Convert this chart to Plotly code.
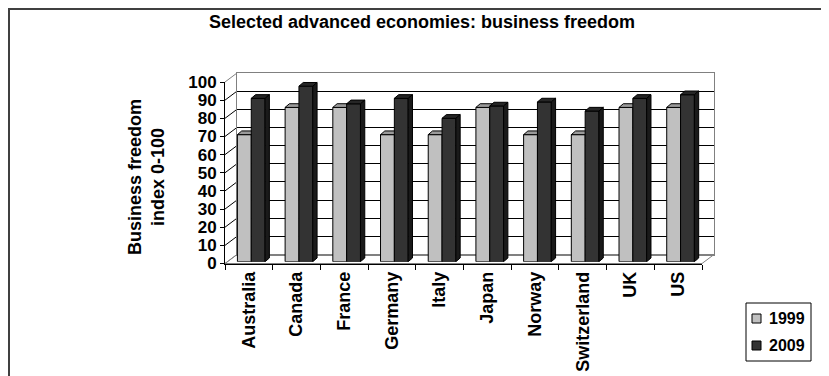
import plotly.graph_objects as go

# ---------------- data ----------------
countries = ["Australia", "Canada", "France", "Germany", "Italy",
             "Japan", "Norway", "Switzerland", "UK", "US"]
values_1999 = [70, 85, 85, 70, 70, 85, 70, 70, 85, 85]
values_2009 = [90, 96.7, 87, 90, 79, 85.8, 88, 83, 90, 92]
series_names = ["1999", "2009"]
y_ticks = list(range(0, 101, 10))

# ---------------- geometry (page pixels) ----------------
W, H = 829, 376
OFF = 8                      # page body margin compensation
FX0, FX1 = 225, 702          # front plane x extent
FY0, FY100 = 263.5, 82       # front plane y for 0 and 100
DX, DY = 12, 9               # wall depth offset
BSX, BSY = 2.4, 1.8          # bar plane offset from front
BDX, BDY = 4.3, 3.7          # bar depth
BAR_W = 0.29

FONT = "Liberation Sans, Arial, sans-serif"
LIGHT, LIGHT_TOP = "#C0C0C0", "#9A9A9A"
DARK, DARK_TOP, DARK_SIDE = "#333333", "#262626", "#1A1A1A"
WALL_EDGE = "#808080"


def px(x):
    return (x - OFF) / W


def py(y):
    return 1 - (y - OFF) / H


n = len(countries)
ux = (FX1 - FX0) / n
uy = (FY0 - FY100) / 100
ddx, ddy = BDX / ux, BDY / uy


def faces(vals, offset):
    tx, ty, sx, sy = [], [], [], []
    for i, v in enumerate(vals):
        a = i + offset
        b = a + BAR_W
        tx += [a, b, b + ddx, a + ddx, a, None]
        ty += [v, v, v + ddy, v + ddy, v, None]
        sx += [b, b, b + ddx, b + ddx, b, None]
        sy += [0, v, v + ddy, ddy, 0, None]
    return (tx, ty), (sx, sy)


fig = go.Figure()
fig.add_trace(go.Scatter(x=[None], y=[None], xaxis="x", yaxis="y",
                         showlegend=False, hoverinfo="skip"))
fig.add_trace(go.Scatter(x=countries, y=[None] * n, xaxis="x2", yaxis="y2",
                         showlegend=False, hoverinfo="skip", mode="markers"))
xs = list(range(n))
fig.add_trace(go.Bar(x=xs, y=values_1999, width=BAR_W, offset=-BAR_W,
                     name=series_names[0], marker=dict(color=LIGHT, line=dict(color="black", width=1)),
                     xaxis="x3", yaxis="y3", showlegend=False))
(tx, ty), _ = faces(values_1999, -BAR_W)
fig.add_trace(go.Scatter(x=tx, y=ty, fill="toself", fillcolor=LIGHT_TOP, mode="lines",
                         line=dict(color="black", width=1), xaxis="x3", yaxis="y3",
                         showlegend=False, hoverinfo="skip"))
fig.add_trace(go.Bar(x=xs, y=values_2009, width=BAR_W, offset=0,
                     name=series_names[1], marker=dict(color=DARK, line=dict(color="black", width=1)),
                     xaxis="x4", yaxis="y4", showlegend=False))
(tx, ty), (sx, sy) = faces(values_2009, 0)
fig.add_trace(go.Scatter(x=tx, y=ty, fill="toself", fillcolor=DARK_TOP, mode="lines",
                         line=dict(color="black", width=1), xaxis="x4", yaxis="y4",
                         showlegend=False, hoverinfo="skip"))
fig.add_trace(go.Scatter(x=sx, y=sy, fill="toself", fillcolor=DARK_SIDE, mode="lines",
                         line=dict(color="black", width=1), xaxis="x4", yaxis="y4",
                         showlegend=False, hoverinfo="skip"))

shapes = []
# floor
shapes.append(dict(type="path", xref="paper", yref="paper", layer="below",
                   path=f"M {px(FX0)},{py(FY0)} L {px(FX1)},{py(FY0)} L {px(FX1+DX)},{py(FY0-DY)} "
                        f"L {px(FX0+DX)},{py(FY0-DY)} Z",
                   fillcolor="white", line=dict(color=WALL_EDGE, width=1)))
# left wall gridlines
for v in y_ticks:
    yf = FY0 - v * uy
    col = WALL_EDGE if v in (0, 100) else "black"
    shapes.append(dict(type="line", xref="paper", yref="paper", layer="below",
                       x0=px(FX0), y0=py(yf), x1=px(FX0 + DX), y1=py(yf - DY),
                       line=dict(color=col, width=1)))
# outer chart border
shapes.append(dict(type="rect", xref="paper", yref="paper",
                   x0=px(OFF + 1), y0=py(390), x1=px(828), y1=py(OFF + 1),
                   line=dict(color="#404040", width=2), fillcolor="rgba(0,0,0,0)"))

# legend box
LX0, LY0, LX1, LY1 = 746, 303, 811, 361
shapes.append(dict(type="rect", xref="paper", yref="paper",
                   x0=px(LX0), y0=py(LY1), x1=px(LX1), y1=py(LY0),
                   line=dict(color="black", width=1), fillcolor="white"))
annotations = []
for k, (name, col) in enumerate(zip(series_names, [LIGHT, DARK])):
    cy = 318 + 27 * k
    shapes.append(dict(type="rect", xref="paper", yref="paper",
                       x0=px(752), y0=py(cy + 5), x1=px(761), y1=py(cy - 4),
                       line=dict(color="black", width=1), fillcolor=col))
    annotations.append(dict(text=name, xref="paper", yref="paper", x=px(767), y=py(cy),
                            xanchor="left", yanchor="middle", showarrow=False,
                            font=dict(size=16, weight="bold", family=FONT)))
annotations.append(dict(text="Business freedom<br>index 0-100", textangle=-90,
                        xref="paper", yref="paper", x=px(146), y=py(177),
                        xanchor="center", yanchor="middle", showarrow=False,
                        font=dict(size=18, weight="bold", family=FONT)))

bar_dom_x = [px(FX0 + BSX), px(FX1 + BSX)]
bar_dom_y = [py(FY0 - BSY), py(FY100 - BSY)]

fig.update_layout(
    width=W, height=H,
    margin=dict(l=0, r=0, t=0, b=0, pad=0, autoexpand=False),
    paper_bgcolor="white", plot_bgcolor="rgba(0,0,0,0)",
    font=dict(family=FONT, color="black"),
    barmode="overlay", showlegend=False,
    title=dict(text="Selected advanced economies: business freedom",
               x=px(422), xanchor="center", y=py(22), yanchor="middle", yref="container",
               automargin=False,
               font=dict(size=18, weight="bold", family=FONT, color="black")),
    xaxis=dict(domain=[px(FX0 + DX), px(FX1 + DX)], range=[0, 1], showticklabels=False,
               showgrid=False, zeroline=False, showline=True, mirror=True,
               linecolor=WALL_EDGE, linewidth=1, ticks="", fixedrange=True, automargin=False),
    yaxis=dict(domain=[py(FY0 - DY), py(FY100 - DY)], range=[0, 100], dtick=10,
               showticklabels=False, showgrid=True, gridcolor="black", gridwidth=1,
               zeroline=False, showline=True, mirror=True, linecolor=WALL_EDGE,
               linewidth=1, ticks="", fixedrange=True, automargin=False),
    xaxis2=dict(domain=[px(FX0), px(FX1)], anchor="y2", type="category",
                categoryorder="array", categoryarray=countries, range=[-0.5, n - 0.5],
                showgrid=False, zeroline=False, showline=True, linecolor="black", linewidth=1,
                ticks="outside", tickson="boundaries", ticklen=5, tickcolor="black",
                tickangle=-90, automargin=False,
                tickfont=dict(size=18, weight="bold", family=FONT)),
    yaxis2=dict(domain=[py(FY0), py(FY100)], anchor="x2", range=[0, 100],
                tickvals=y_ticks, showgrid=False, zeroline=False, showline=True,
                linecolor="black", linewidth=1, ticks="outside", ticklen=4,
                tickcolor="black", automargin=False,
                tickfont=dict(size=17, weight="bold", family=FONT)),
    xaxis3=dict(domain=bar_dom_x, anchor="y3", range=[-0.5, n - 0.5], visible=False),
    yaxis3=dict(domain=bar_dom_y, anchor="x3", range=[0, 100], visible=False),
    xaxis4=dict(overlaying="x3", anchor="y4", range=[-0.5, n - 0.5], visible=False),
    yaxis4=dict(overlaying="y3", anchor="x4", range=[0, 100], visible=False),
    shapes=shapes, annotations=annotations,
)

fig.write_html("out.html")
